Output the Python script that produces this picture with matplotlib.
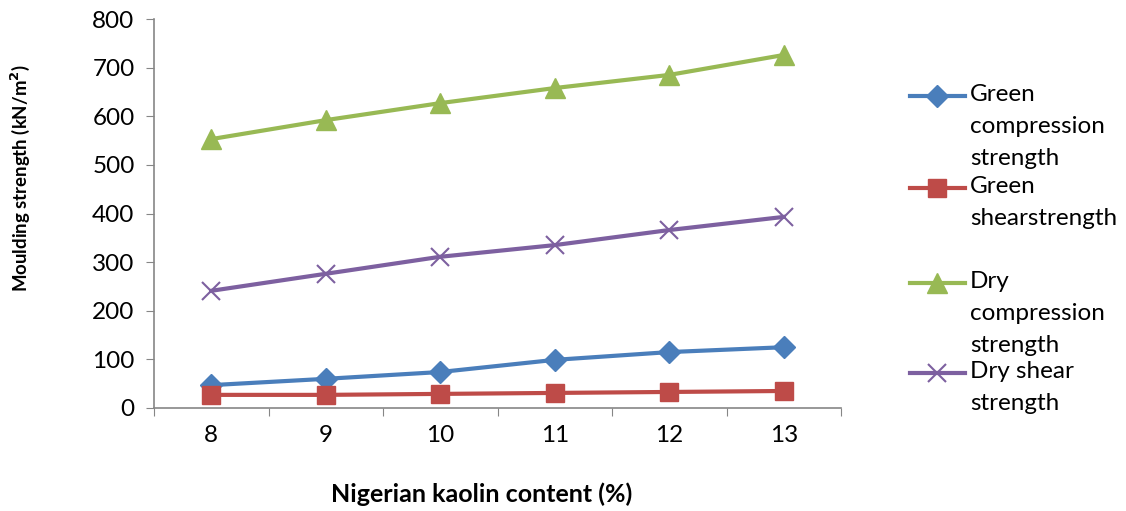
import numpy as np
import matplotlib
matplotlib.use("Agg")
import matplotlib.pyplot as plt
from matplotlib.lines import Line2D

# data
kaolin = [8, 9, 10, 11, 12, 13]
green_comp = [47, 60, 74, 99, 115, 125]
green_shear = [27, 27, 29, 31, 33, 35]
dry_comp = [553, 592, 627, 658, 685, 726]
dry_shear = [241, 276, 311, 335, 366, 393]

series = [
    ("Green\ncompression\nstrength", green_comp, "#4a7ebb", "D", 11),
    ("Green\nshearstrength", green_shear, "#be4b48", "s", 13),
    ("Dry\ncompression\nstrength", dry_comp, "#98b954", "^", 15),
    ("Dry shear\nstrength", dry_shear, "#7d60a0", "x", 13),
]
legend_y = [96, 188, 283, 373]  # first-line centres, pixels from top

plt.rcParams['font.family'] = ['Lato', 'DejaVu Sans']

W, H = 1126, 511
fig = plt.figure(figsize=(W / 100, H / 100), dpi=100)
ax = fig.add_axes([154 / W, 1 - 408 / H, (841 - 154) / W, (408 - 19) / H])

for label, vals, col, mk, ms in series:
    kw = dict(markeredgewidth=1.5) if mk == "x" else dict(markeredgecolor=col)
    ax.plot(kaolin, vals, color=col, lw=3, marker=mk, ms=ms, **kw)

ax.set_xlim(7.5, 13.5)
ax.set_ylim(0, 800)
ax.set_yticks(np.arange(0, 801, 100))
ax.set_xticks(np.arange(7.5, 13.6, 1))
ax.set_xticklabels([])
ax.set_xticks(kaolin, minor=True)
ax.set_xticklabels([str(k) for k in kaolin], minor=True)

for s in ["top", "right"]:
    ax.spines[s].set_visible(False)
for s in ["left", "bottom"]:
    ax.spines[s].set_color("#868686")
    ax.spines[s].set_linewidth(1.2)
ax.tick_params(axis="y", which="major", length=6, color="#868686", labelsize=17.5, pad=8)
ax.tick_params(axis="x", which="major", length=6, color="#868686")
ax.tick_params(axis="x", which="minor", length=0, labelsize=17.5, pad=12)

ax.set_xlabel("Nigerian kaolin content (%)", fontsize=18, fontweight="bold")
ax.xaxis.set_label_coords(0.477, -86 / 389, transform=ax.transAxes)
ax.xaxis.label.set_va("center")
ax.set_ylabel("Moulding strength (kN/m$^\\mathbf{2}$)", fontsize=12, fontweight="bold")
ax.yaxis.set_label_coords(-134 / 687, 0.59, transform=ax.transAxes)
ax.yaxis.label.set_va("center")

# size the y label so it spans about 228 px like the reference
r = fig.canvas.get_renderer()
h = ax.yaxis.label.get_window_extent(r).height
ax.yaxis.label.set_fontsize(12 * 228 / h)

# legend drawn by hand so the marker sits on the first text line
for (label, vals, col, mk, ms), yp in zip(series, legend_y):
    yf = 1 - yp / H
    kw = dict(markeredgewidth=1.5) if mk == "x" else dict(markeredgecolor=col)
    fig.add_artist(Line2D([910 / W, 965 / W], [yf, yf], color=col, lw=3,
                          transform=fig.transFigure))
    fig.add_artist(Line2D([937 / W], [yf], color=col, marker=mk, ms=ms,
                          transform=fig.transFigure, **kw))
    fig.text(970 / W, yf + 12 / H, label, fontsize=17.5, va="top", ha="left",
             linespacing=1.66)

fig.savefig("out.png", dpi=100)
